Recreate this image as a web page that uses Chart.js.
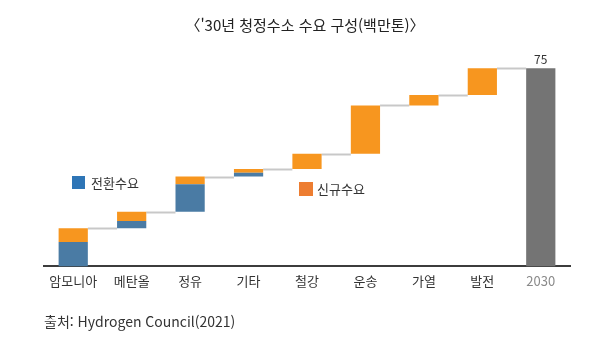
<!DOCTYPE html>
<html lang="ko">
<head>
  <meta charset="UTF-8" />
  <title>청정수소 수요 구성</title>
  <script src="https://cdn.jsdelivr.net/npm/chart.js"></script>
  <style>
    body { margin: 0; background: #fff; font-family: "Noto Sans CJK KR", "Noto Sans", sans-serif; color: #333; }
    #wrap { position: relative; width: 600px; height: 345px; overflow: hidden; }
    #chart { position: absolute; left: 0; top: 0; }
    .txt { position: absolute; white-space: nowrap; line-height: 1; }
    .sq { position: absolute; }
  </style>
</head>
<body>
  <div id="wrap">
    <canvas id="chart" width="600" height="345"></canvas>
    <div class="txt" style="left:0;width:610px;text-align:center;top:17px;font-size:15px;color:#222;">〈'30년 청정수소 수요 구성(백만톤)〉</div>
    <div class="sq" style="left:72px;top:176px;width:13px;height:13px;background:#2e75b6;"></div>
    <div class="txt" style="left:91px;top:176px;font-size:13px;">전환수요</div>
    <div class="sq" style="left:299px;top:182px;width:14px;height:14px;background:#ed7d31;"></div>
    <div class="txt" style="left:317px;top:182px;font-size:13px;">신규수요</div>
    <div class="txt" style="left:44px;top:314px;font-size:14px;">출처: Hydrogen Council(2021)</div>
  </div>

  <script>
    // Data (백만톤)
    const categories = ['암모니아', '메탄올', '정유', '기타', '철강', '운송', '가열', '발전', '2030'];
    const conversion = [9.2, 2.8, 10.4, 1.4, 0, 0, 0, 0, null];      // 전환수요
    const newDemand  = [5.2, 3.5, 2.9, 1.5, 5.7, 18.3, 4.0, 10.1, null]; // 신규수요
    const totals     = [null, null, null, null, null, null, null, null, 75];

    // running level at the bottom of each step, and at its top
    const base = [], tops = [];
    let run = 0;
    categories.forEach((c, i) => {
      if (totals[i] != null) { base.push(0); tops.push(totals[i]); return; }
      base.push(run);
      run += (conversion[i] || 0) + (newDemand[i] || 0);
      tops.push(run);
    });

    // thin grey connectors between steps, drawn behind the bars
    const connectors = {
      id: 'connectors',
      beforeDatasetsDraw(chart) {
        const { ctx, scales: { x, y } } = chart;
        const meta = chart.getDatasetMeta(1);
        ctx.save();
        ctx.strokeStyle = '#c8c8c8';
        ctx.lineWidth = 2;
        for (let i = 0; i < categories.length - 1; i++) {
          const w = meta.data[i].width;
          const x0 = x.getPixelForValue(i) + w / 2;
          const x1 = x.getPixelForValue(i + 1) - w / 2;
          const yy = Math.round(y.getPixelForValue(tops[i])) + 0.5;
          ctx.beginPath(); ctx.moveTo(x0, yy); ctx.lineTo(x1, yy); ctx.stroke();
        }
        ctx.restore();
      },
      afterDatasetsDraw(chart) {
        // value label over the total bar
        const { ctx, scales: { x, y } } = chart;
        ctx.save();
        ctx.font = '12px "Noto Sans CJK KR", "Noto Sans", sans-serif';
        ctx.fillStyle = '#333';
        ctx.textAlign = 'center';
        ctx.textBaseline = 'bottom';
        totals.forEach((v, i) => {
          if (v == null) return;
          ctx.fillText(String(v), x.getPixelForValue(i), y.getPixelForValue(v) - 3);
        });
        ctx.restore();
      }
    };

    new Chart(document.getElementById('chart'), {
      type: 'bar',
      data: {
        labels: categories,
        datasets: [
          { label: 'base', data: base, backgroundColor: 'rgba(0,0,0,0)' },
          { label: '전환수요', data: conversion, backgroundColor: '#4a7ba4' },
          { label: '신규수요', data: newDemand, backgroundColor: '#f7961f' },
          { label: '2030', data: totals, backgroundColor: '#747474' }
        ]
      },
      options: {
        responsive: false,
        animation: false,
        barPercentage: 0.5,
        categoryPercentage: 1,
        layout: { padding: { left: 44, right: 30, top: 55, bottom: 49 } },
        plugins: { legend: { display: false }, tooltip: { enabled: false } },
        scales: {
          x: {
            stacked: true,
            grid: { display: false, drawTicks: false },
            border: { display: true, color: '#3c3c3c', width: 2 },
            ticks: {
              padding: 7,
              font: { size: 13, family: '"Noto Sans CJK KR", "Noto Sans", sans-serif' },
              color: ctx => ctx.index === categories.length - 1 ? '#8a8a8a' : '#333'
            }
          },
          y: { stacked: true, display: false, min: 0, max: 80 }
        }
      },
      plugins: [connectors]
    });
  </script>
</body>
</html>
